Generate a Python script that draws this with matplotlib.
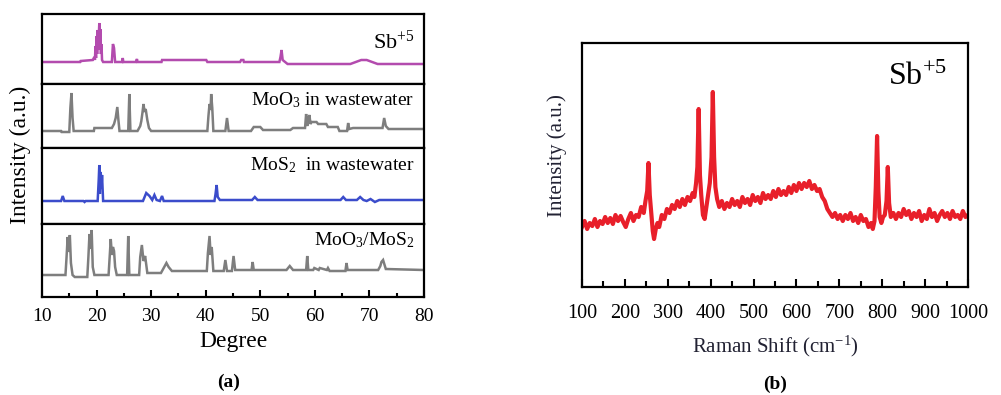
import numpy as np
import matplotlib.pyplot as plt
from matplotlib.ticker import MultipleLocator

plt.rcParams['font.family'] = ['Liberation Serif', 'DejaVu Serif']
plt.rcParams['mathtext.fontset'] = 'custom'
plt.rcParams['mathtext.rm'] = 'Liberation Serif'
plt.rcParams['mathtext.it'] = 'Liberation Serif:italic'
plt.rcParams['mathtext.default'] = 'regular'

# ---- panel (a): XRD strips, heights in px above strip bottom ----
sb_x = [10, 17, 17.1, 19.3, 19.6, 19.7, 19.8, 19.9, 20.0, 20.1, 20.2, 20.3, 20.5, 20.6, 20.7, 20.8, 20.9, 21.0, 21.2,
        22.8, 23.0, 23.2, 23.4, 24.7, 24.8, 24.9, 27.2, 27.4, 27.5, 31.9, 32.0, 40.1, 40.3,
        46.3, 46.5, 46.9, 47.0, 53.5, 53.7, 53.9, 54.1, 55.0, 66.5, 67.5, 68.5, 69.5, 70.5, 71.5, 80]
sb_y = [22, 22, 23, 24, 27, 24, 38, 26, 48, 30, 54, 34, 61, 40, 55, 30, 40, 24, 22,
        22, 40, 36, 22, 22, 26, 22, 22, 25, 22, 22, 24, 24, 22,
        22, 24, 24, 22, 22, 27, 34, 24, 20, 20, 22, 24, 24, 22, 20, 20]

moo3w_x = [10, 13.5, 13.6, 15.0, 15.2, 15.4, 15.6, 15.8, 17.5, 19.5, 19.6, 22.8, 23.2, 23.5, 23.8, 24.0, 24.2,
           25.8, 26.0, 26.2, 27.5, 28.0, 28.2, 28.4, 28.6, 28.8, 29.0, 29.3, 29.6, 30.0,
           40.3, 40.5, 40.7, 40.9, 41.0, 41.2, 41.4, 43.6, 43.9, 44.2, 48.3, 48.8, 50.0, 50.5,
           55.5, 56.0, 58.2, 58.4, 58.6, 58.8, 59.0, 59.2, 59.4, 60.3, 60.6, 62.1, 62.4,
           64.2, 64.5, 65.9, 66.1, 66.3, 67.0, 72.4, 72.7, 73.0, 73.5, 80]
moo3w_y = [17, 17, 16, 16, 40, 55, 30, 17, 17, 17, 20, 20, 24, 30, 41, 28, 17,
           17, 54, 17, 17, 22, 27, 35, 44, 36, 39, 28, 20, 17,
           17, 32, 44, 38, 54, 40, 17, 17, 30, 17, 17, 21, 21, 18,
           18, 20, 20, 34, 22, 28, 33, 24, 26, 26, 24, 24, 21,
           21, 17, 17, 25, 19, 20, 20, 30, 22, 19, 19]

mos2w_x = [10, 13.5, 13.8, 14.1, 17.6, 17.8, 18.0, 20.2, 20.4, 20.5, 20.6, 20.7, 20.8, 20.9, 21.0, 21.2,
           28.5, 29.1, 29.7, 30.2, 30.6, 31.0, 31.6, 32.0, 32.3, 41.6, 41.8, 42.0, 42.2, 42.6,
           48.5, 49.0, 49.5, 64.7, 65.2, 65.7, 67.7, 68.3, 68.9, 69.5, 70.2, 71.0, 71.8, 80]
mos2w_y = [23, 23, 28, 23, 23, 22, 23, 23, 45, 59, 30, 52, 49, 35, 49, 23,
           23, 31, 28, 24, 29, 24, 23, 28, 23, 23, 30, 39, 27, 24,
           24, 27, 24, 24, 27, 24, 24, 27, 24, 23, 25, 22, 24, 24]

mix_x = [10, 14.3, 14.5, 14.7, 14.9, 15.1, 15.3, 15.6, 16.0, 16.3, 18.3, 18.5, 18.7, 18.9, 19.1, 19.3, 19.6,
         22.2, 22.4, 22.6, 22.8, 23.0, 23.2, 23.4, 23.7, 25.6, 25.8, 26.0, 27.8, 28.0, 28.3, 28.6, 28.9, 29.3,
         31.8, 32.4, 32.8, 33.2, 33.8, 40.2, 40.4, 40.7, 40.9, 41.1, 41.4, 43.3, 43.6, 43.9, 44.8, 45.1, 45.4,
         48.4, 48.6, 48.8, 54.8, 55.4, 56.0, 58.4, 58.6, 58.8, 59.7, 59.9, 60.7, 60.9, 62.2, 62.4, 62.7,
         65.6, 65.8, 66.0, 71.6, 72.0, 72.2, 72.5, 73.0, 80]
mix_y = [22, 22, 40, 60, 45, 62, 34, 22, 20, 20, 20, 40, 63, 48, 67, 30, 22,
         22, 40, 58, 42, 50, 46, 30, 22, 22, 61, 22, 22, 40, 52, 36, 41, 24,
         24, 30, 34, 30, 26, 26, 44, 61, 42, 50, 26, 26, 37, 26, 26, 41, 27,
         27, 35, 27, 27, 31, 27, 27, 41, 27, 27, 29, 27, 29, 27, 29, 26,
         26, 34, 27, 27, 31, 35, 37, 28, 27]

strips = [
    (sb_x, sb_y, '#B34BAE', r'Sb$^{+5}$', 70, (14, 84)),
    (moo3w_x, moo3w_y, '#7E7E7E', r'MoO$_3$ in wastewater', 64, (84, 148)),
    (mos2w_x, mos2w_y, '#3B4CCB', r'MoS$_2$  in wastewater', 76, (148, 224)),
    (mix_x, mix_y, '#7E7E7E', r'MoO$_3$/MoS$_2$', 73, (224, 297)),
]

# ---- panel (b): Raman spectrum, heights in px above axes bottom ----
raman_x = [100, 106, 112, 118, 124, 130, 136, 142, 148, 154, 160, 166, 172, 178, 184, 190, 196, 202, 208, 214,
           220, 226, 232, 238, 244, 248, 252, 255, 258, 261, 265, 268, 272, 276, 280, 286, 292, 298, 304, 310,
           316, 322, 328, 334, 340, 346, 352, 358, 362, 366, 369, 372, 375, 378, 382, 386, 390, 394, 398, 402,
           405, 408, 411, 415, 420, 426, 432, 438, 444, 450, 456, 462, 468, 474, 480, 486, 492, 498, 504, 510,
           516, 522, 528, 534, 540, 546, 552, 558, 564, 570, 576, 582, 588, 594, 600, 606, 612, 618, 624, 630,
           636, 642, 648, 654, 660, 666, 672, 678, 684, 690, 696, 702, 708, 714, 720, 726, 732, 738, 744, 750,
           756, 762, 768, 774, 778, 782, 785, 788, 791, 794, 798, 802, 806, 810, 813, 816, 820, 826, 832, 838,
           844, 850, 856, 862, 868, 874, 880, 886, 892, 898, 904, 910, 916, 922, 928, 934, 940, 946, 952, 958,
           964, 970, 976, 982, 988, 994, 1000]
raman_y = [60, 66, 58, 64, 61, 68, 60, 66, 63, 70, 64, 69, 63, 72, 66, 71, 65, 60, 68, 74,
           66, 72, 70, 80, 74, 86, 96, 124, 92, 76, 56, 48, 58, 64, 60, 72, 68, 78, 74, 82,
           78, 86, 80, 88, 82, 90, 86, 94, 90, 104, 120, 178, 112, 92, 72, 68, 80, 92, 104, 130,
           195, 130, 100, 88, 80, 86, 78, 84, 80, 88, 82, 86, 80, 90, 84, 88, 82, 92, 86, 90,
           84, 94, 88, 92, 88, 96, 90, 98, 92, 96, 92, 100, 94, 102, 96, 104, 98, 104, 100, 106,
           98, 102, 96, 98, 90, 86, 78, 74, 70, 74, 68, 72, 66, 72, 68, 74, 66, 70, 64, 72,
           66, 68, 60, 64, 58, 66, 100, 151, 96, 70, 64, 70, 72, 86, 120, 84, 70, 74, 68, 74,
           70, 78, 72, 76, 68, 74, 70, 76, 66, 72, 68, 78, 70, 74, 66, 72, 76, 70, 74, 68,
           76, 70, 72, 68, 76, 70, 72]

W, H = 1001, 395
fig = plt.figure(figsize=(W / 100, H / 100), dpi=100)


def rect(x0, x1, y0, y1):
    return [x0 / W, 1 - y1 / H, (x1 - x0) / W, (y1 - y0) / H]


label_pos = [0.60, 0.75, 0.78, 0.78]
label_size = [16, 14, 14, 14]
for i, (xs, ys, col, lab, hh, (y0, y1)) in enumerate(strips):
    ax = fig.add_axes(rect(42, 424, y0, y1))
    ax.plot(xs, ys, color=col, lw=1.8, solid_joinstyle='miter')
    ax.set_xlim(10, 80)
    ax.set_ylim(0, hh)
    ax.set_yticks([])
    for s in ax.spines.values():
        s.set_linewidth(1.6)
    ax.text(0.975, label_pos[i], lab, transform=ax.transAxes, ha='right', va='center',
            fontsize=label_size[i])
    if i < 3:
        ax.set_xticks([])
    else:
        ax.xaxis.set_major_locator(MultipleLocator(10))
        ax.xaxis.set_minor_locator(MultipleLocator(5))
        ax.tick_params(axis='x', which='both', direction='in', labelsize=14, width=1.5, pad=8)
        ax.tick_params(axis='x', which='major', length=5)
        ax.tick_params(axis='x', which='minor', length=3)
        ax.set_xlabel('Degree', fontsize=17, labelpad=4)

fig.text(0.020, 0.607, 'Intensity (a.u.)', rotation=90, ha='center', va='center', fontsize=17)
fig.text(0.2288, 0.033, '(a)', ha='center', va='center', fontsize=14, fontweight='bold')

axb = fig.add_axes(rect(582, 968, 43, 287))
axb.plot(raman_x, raman_y, color='#E81F2A', lw=3)
axb.set_xlim(100, 1000)
axb.set_ylim(0, 244)
axb.set_yticks([])
axb.xaxis.set_major_locator(MultipleLocator(100))
axb.xaxis.set_minor_locator(MultipleLocator(50))
axb.tick_params(axis='x', which='both', direction='in', labelsize=14.5, width=1.5, pad=12)
axb.tick_params(axis='x', which='major', length=6)
axb.tick_params(axis='x', which='minor', length=4)
for s in axb.spines.values():
    s.set_linewidth(1.6)
axb.set_xlabel(r'Raman Shift (cm$^{-1}$)', fontsize=15, labelpad=8, color='#222233')
axb.text(0.945, 0.86, r'Sb$^{+5}$', transform=axb.transAxes, ha='right', va='center', fontsize=23)
fig.text(0.5565, 0.607, 'Intensity (a.u.)', rotation=90, ha='center', va='center', fontsize=15, color='#222233')
fig.text(0.774, 0.028, '(b)', ha='center', va='center', fontsize=14, fontweight='bold')

fig.savefig('out.png', dpi=100)
